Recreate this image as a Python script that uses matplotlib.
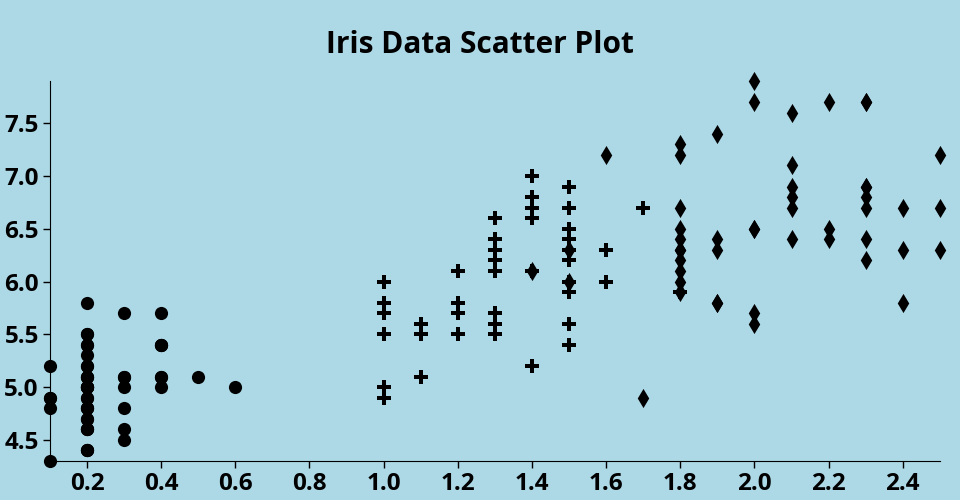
import matplotlib.pyplot as plt

plt.rcParams['font.family'] = ['Open Sans', 'DejaVu Sans']

# iris: petal width vs sepal length
setosa_pw = [0.2, 0.2, 0.2, 0.2, 0.2, 0.4, 0.3, 0.2, 0.2, 0.1, 0.2, 0.2, 0.1, 0.1, 0.2, 0.4, 0.4,
             0.3, 0.3, 0.3, 0.2, 0.4, 0.2, 0.5, 0.2, 0.2, 0.4, 0.2, 0.2, 0.2, 0.2, 0.4, 0.1, 0.2,
             0.2, 0.2, 0.2, 0.1, 0.2, 0.2, 0.3, 0.3, 0.2, 0.6, 0.4, 0.3, 0.2, 0.2, 0.2, 0.2]
setosa_sl = [5.1, 4.9, 4.7, 4.6, 5.0, 5.4, 4.6, 5.0, 4.4, 4.9, 5.4, 4.8, 4.8, 4.3, 5.8, 5.7, 5.4,
             5.1, 5.7, 5.1, 5.4, 5.1, 4.6, 5.1, 4.8, 5.0, 5.0, 5.2, 5.2, 4.7, 4.8, 5.4, 5.2, 5.5,
             4.9, 5.0, 5.5, 4.9, 4.4, 5.1, 5.0, 4.5, 4.4, 5.0, 5.1, 4.8, 5.1, 4.6, 5.3, 5.0]

versicolor_pw = [1.4, 1.5, 1.5, 1.3, 1.5, 1.3, 1.6, 1.0, 1.3, 1.4, 1.0, 1.5, 1.0, 1.4, 1.3, 1.4, 1.5,
                 1.0, 1.5, 1.1, 1.8, 1.3, 1.5, 1.2, 1.3, 1.4, 1.4, 1.7, 1.5, 1.0, 1.1, 1.0, 1.2, 1.6,
                 1.5, 1.6, 1.5, 1.3, 1.3, 1.3, 1.2, 1.4, 1.2, 1.0, 1.3, 1.2, 1.3, 1.3, 1.1, 1.3]
versicolor_sl = [7.0, 6.4, 6.9, 5.5, 6.5, 5.7, 6.3, 4.9, 6.6, 5.2, 5.0, 5.9, 6.0, 6.1, 5.6, 6.7, 5.6,
                 5.8, 6.2, 5.6, 5.9, 6.1, 6.3, 6.1, 6.4, 6.6, 6.8, 6.7, 6.0, 5.7, 5.5, 5.5, 5.8, 6.0,
                 5.4, 6.0, 6.7, 6.3, 5.6, 5.5, 5.5, 6.1, 5.8, 5.0, 5.6, 5.7, 5.7, 6.2, 5.1, 5.7]

virginica_pw = [2.5, 1.9, 2.1, 1.8, 2.2, 2.1, 1.7, 1.8, 1.8, 2.5, 2.0, 1.9, 2.1, 2.0, 2.4, 2.3, 1.8,
                2.2, 2.3, 1.5, 2.3, 2.0, 2.0, 1.8, 2.1, 1.8, 1.8, 1.8, 2.1, 1.6, 1.9, 2.0, 2.2, 1.5,
                1.4, 2.3, 2.4, 1.8, 1.8, 2.1, 2.4, 2.3, 1.9, 2.3, 2.5, 2.3, 1.9, 2.0, 2.3, 1.8]
virginica_sl = [6.3, 5.8, 7.1, 6.3, 6.5, 7.6, 4.9, 7.3, 6.7, 7.2, 6.5, 6.4, 6.8, 5.7, 5.8, 6.4, 6.5,
                7.7, 7.7, 6.0, 6.9, 5.6, 7.7, 6.3, 6.7, 7.2, 6.2, 6.1, 6.4, 7.2, 7.4, 7.9, 6.4, 6.3,
                6.1, 7.7, 6.3, 6.4, 6.0, 6.9, 6.7, 6.9, 5.8, 6.8, 6.7, 6.7, 6.3, 6.5, 6.2, 5.9]

x_ticks = [0.2, 0.4, 0.6, 0.8, 1.0, 1.2, 1.4, 1.6, 1.8, 2.0, 2.2, 2.4]
y_ticks = [4.5, 5.0, 5.5, 6.0, 6.5, 7.0, 7.5]

bg = '#add8e6'
fig = plt.figure(figsize=(9.6, 5), dpi=100, facecolor=bg)
ax = fig.add_axes([0.052, 0.078, 0.927, 0.76])
ax.set_facecolor(bg)

ax.scatter(setosa_pw, setosa_sl, marker='o', s=90, color='black', linewidths=0)
ax.scatter(virginica_pw, virginica_sl, marker='d', s=95, color='black', linewidths=0)
ax.scatter(versicolor_pw, versicolor_sl, marker='P', s=100, color='black', linewidths=0)

ax.set_xlim(0.1, 2.5)
ax.set_ylim(4.3, 7.9)
ax.set_xticks(x_ticks)
ax.set_yticks(y_ticks)
ax.set_xticklabels([f'{v:.1f}' for v in x_ticks], fontweight='bold', fontsize=17.5)
ax.set_yticklabels([f'{v:.1f}' for v in y_ticks], fontweight='bold', fontsize=17.5)
ax.tick_params(length=5, width=1, pad=3)
for s in ['top', 'right']:
    ax.spines[s].set_visible(False)

# title is centred on the figure, not on the axes
ax.set_title('Iris Data Scatter Plot', fontweight='bold', fontsize=21.5, pad=20, x=0.4833)
for c in ax.collections:
    c.set_clip_on(False)

fig.savefig('out.png', dpi=100, facecolor=bg)
